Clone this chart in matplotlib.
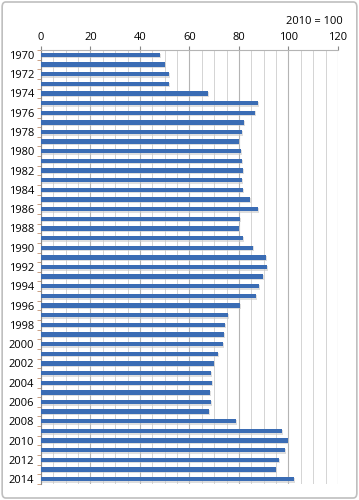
import matplotlib
matplotlib.use("Agg")
import matplotlib.pyplot as plt
from matplotlib.patches import FancyBboxPatch

years = list(range(1970, 2015))
values = [48.1, 50.0, 51.7, 51.7, 67.3, 87.5, 86.5, 81.9, 81.3, 80.1,
          80.7, 81.3, 81.8, 81.3, 81.8, 84.3, 87.5, 80.4, 80.1, 81.8,
          85.5, 91.0, 91.3, 89.7, 87.9, 87.0, 80.3, 75.6, 74.3, 73.8,
          73.5, 71.4, 70.0, 68.8, 69.1, 68.3, 68.6, 68.0, 78.8, 97.4,
          100.0, 98.5, 96.2, 95.0, 102.2]
year_labels = [str(y) if y % 2 == 0 else "" for y in years]

plt.rcParams['font.family'] = ['Open Sans', 'DejaVu Sans']

fig = plt.figure(figsize=(3.59, 5.0), dpi=100)
fig.patches.append(FancyBboxPatch((0.006, 0.004), 0.988, 0.992,
                                  boxstyle="round,pad=0,rounding_size=0.01",
                                  transform=fig.transFigure, fill=False,
                                  edgecolor="#bfbfbf", linewidth=1.2))
ax = fig.add_axes([0.1142, 0.032, 0.8273, 0.868])

pos = list(range(len(years)))
# soft shadow under each bar
ax.barh([p + 0.12 for p in pos], [v + 0.4 for v in values], height=0.5,
        color="#c8c8c8", alpha=0.6, zorder=2)
ax.barh(pos, values, height=0.45, color="#3a6cb4", zorder=3)

ax.set_xlim(0, 120)
ax.set_ylim(len(years) - 0.5, -0.5)
ax.set_xticks(range(0, 121, 20))
ax.set_xticks(range(0, 121, 5), minor=True)
ax.xaxis.tick_top()
ax.tick_params(axis='x', which='major', labelsize=8, length=3, color="#888888", pad=2)
ax.tick_params(axis='x', which='minor', length=0)
ax.grid(axis='x', which='minor', color="#d4d4d4", linewidth=0.7, zorder=0)
ax.grid(axis='x', which='major', color="#b4b4b4", linewidth=0.8, zorder=0)

# labels centred on bars, tick marks between categories
ax.set_yticks(pos)
ax.set_yticklabels(year_labels, fontsize=8)
ax.set_yticks([p - 0.5 for p in pos] + [len(years) - 0.5], minor=True)
ax.tick_params(axis='y', which='major', length=0, pad=5)
ax.tick_params(axis='y', which='minor', length=3, color="#c09070")

for s in ['right', 'bottom']:
    ax.spines[s].set_visible(False)
ax.spines['top'].set_color("#b4b4b4")
ax.spines['left'].set_color("#888888")

fig.text(0.955, 0.958, "2010 = 100", ha='right', va='center', fontsize=8)

fig.savefig("out.png", dpi=100)
